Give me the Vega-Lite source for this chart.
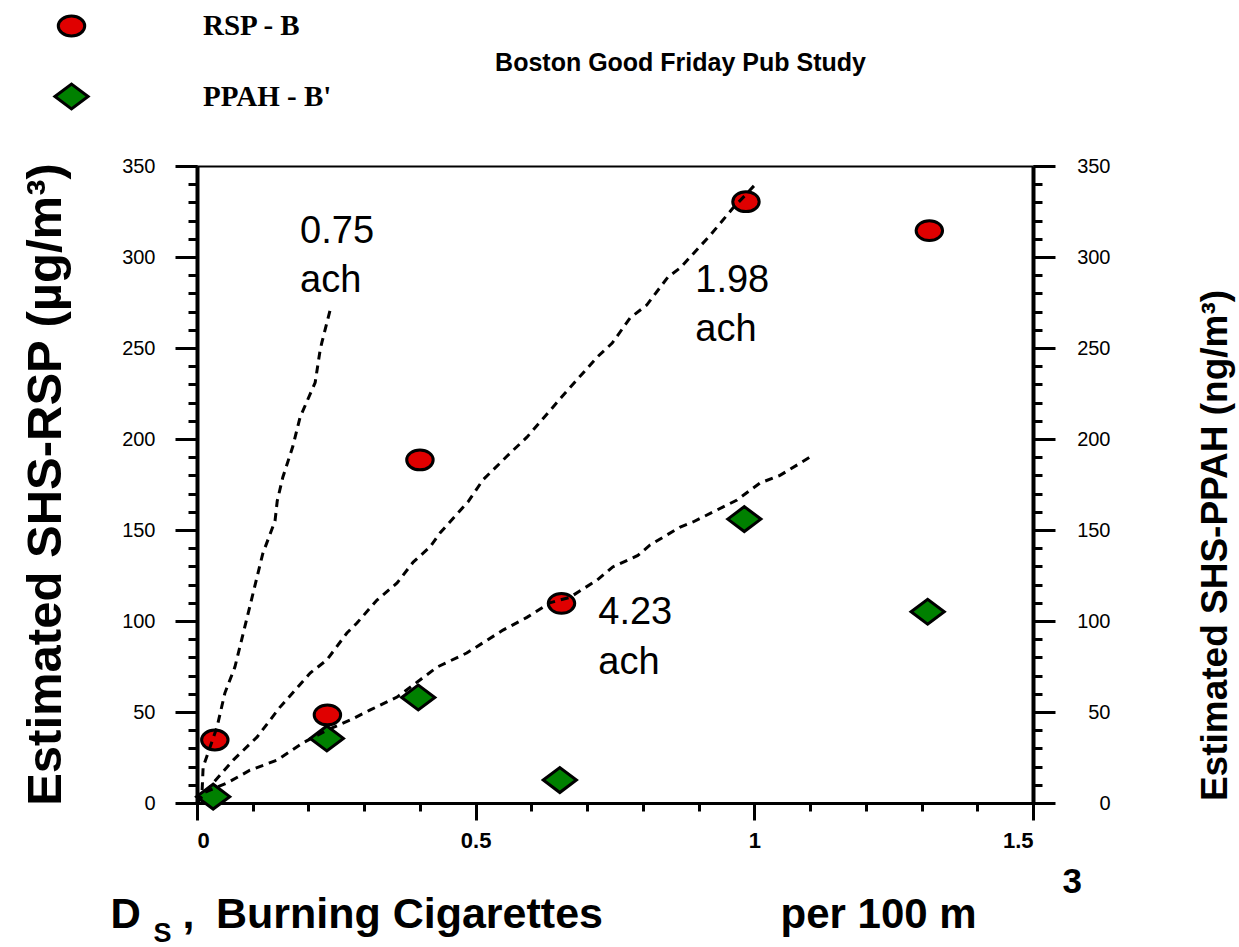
{
  "$schema": "https://vega.github.io/schema/vega-lite/v6.json",
  "width": 836,
  "height": 637,
  "autosize": "none",
  "padding": {"left": 197, "top": 166, "right": 206, "bottom": 144},
  "background": "white",
  "config": {
    "view": {"stroke": null},
    "legend": {"symbolStrokeWidth": 3, "symbolStrokeColor": "black"},
    "axis": {
      "grid": false,
      "labelColor": "black",
      "tickColor": "black",
      "domainColor": "black",
      "titleColor": "black",
      "labelFont": "Liberation Sans",
      "titleFont": "Liberation Sans"
    }
  },
  "datasets": {
    "lines": [
      {"ach": "0.75", "x": 0, "y": 0},
      {"ach": "0.75", "x": 0.009, "y": 5.5},
      {"ach": "0.75", "x": 0.011, "y": 19.8},
      {"ach": "0.75", "x": 0.036, "y": 41.8},
      {"ach": "0.75", "x": 0.05, "y": 60.4},
      {"ach": "0.75", "x": 0.068, "y": 74.7},
      {"ach": "0.75", "x": 0.09, "y": 102},
      {"ach": "0.75", "x": 0.118, "y": 137},
      {"ach": "0.75", "x": 0.14, "y": 155},
      {"ach": "0.75", "x": 0.144, "y": 166},
      {"ach": "0.75", "x": 0.154, "y": 179},
      {"ach": "0.75", "x": 0.172, "y": 196},
      {"ach": "0.75", "x": 0.185, "y": 212},
      {"ach": "0.75", "x": 0.212, "y": 231},
      {"ach": "0.75", "x": 0.221, "y": 249},
      {"ach": "0.75", "x": 0.224, "y": 253},
      {"ach": "0.75", "x": 0.239, "y": 271},
      {"ach": "1.98", "x": 0, "y": 0},
      {"ach": "1.98", "x": 0.029, "y": 11},
      {"ach": "1.98", "x": 0.065, "y": 23.6},
      {"ach": "1.98", "x": 0.108, "y": 36.3},
      {"ach": "1.98", "x": 0.149, "y": 52.7},
      {"ach": "1.98", "x": 0.203, "y": 71.4},
      {"ach": "1.98", "x": 0.233, "y": 78.6},
      {"ach": "1.98", "x": 0.269, "y": 93.4},
      {"ach": "1.98", "x": 0.287, "y": 98.9},
      {"ach": "1.98", "x": 0.323, "y": 111.5},
      {"ach": "1.98", "x": 0.359, "y": 120.9},
      {"ach": "1.98", "x": 0.388, "y": 132.4},
      {"ach": "1.98", "x": 0.418, "y": 140.7},
      {"ach": "1.98", "x": 0.436, "y": 148.4},
      {"ach": "1.98", "x": 0.486, "y": 165.4},
      {"ach": "1.98", "x": 0.513, "y": 177.5},
      {"ach": "1.98", "x": 0.562, "y": 192.3},
      {"ach": "1.98", "x": 0.592, "y": 201},
      {"ach": "1.98", "x": 0.657, "y": 224},
      {"ach": "1.98", "x": 0.718, "y": 245},
      {"ach": "1.98", "x": 0.745, "y": 252.7},
      {"ach": "1.98", "x": 0.777, "y": 266.5},
      {"ach": "1.98", "x": 0.807, "y": 273.6},
      {"ach": "1.98", "x": 0.845, "y": 289},
      {"ach": "1.98", "x": 0.867, "y": 294},
      {"ach": "1.98", "x": 0.921, "y": 312},
      {"ach": "1.98", "x": 0.962, "y": 327},
      {"ach": "1.98", "x": 0.987, "y": 335},
      {"ach": "1.98", "x": 1.005, "y": 341},
      {"ach": "4.23", "x": 0, "y": 0},
      {"ach": "4.23", "x": 0.011, "y": 5.5},
      {"ach": "4.23", "x": 0.054, "y": 11},
      {"ach": "4.23", "x": 0.095, "y": 18},
      {"ach": "4.23", "x": 0.144, "y": 23.6},
      {"ach": "4.23", "x": 0.19, "y": 33},
      {"ach": "4.23", "x": 0.233, "y": 40},
      {"ach": "4.23", "x": 0.275, "y": 45.6},
      {"ach": "4.23", "x": 0.31, "y": 51},
      {"ach": "4.23", "x": 0.359, "y": 58.2},
      {"ach": "4.23", "x": 0.4, "y": 67.6},
      {"ach": "4.23", "x": 0.431, "y": 74.7},
      {"ach": "4.23", "x": 0.484, "y": 82.4},
      {"ach": "4.23", "x": 0.549, "y": 95},
      {"ach": "4.23", "x": 0.592, "y": 102},
      {"ach": "4.23", "x": 0.633, "y": 110},
      {"ach": "4.23", "x": 0.669, "y": 113},
      {"ach": "4.23", "x": 0.718, "y": 122.5},
      {"ach": "4.23", "x": 0.746, "y": 129.7},
      {"ach": "4.23", "x": 0.791, "y": 136},
      {"ach": "4.23", "x": 0.813, "y": 141.8},
      {"ach": "4.23", "x": 0.867, "y": 151.6},
      {"ach": "4.23", "x": 0.89, "y": 154.4},
      {"ach": "4.23", "x": 0.969, "y": 166.5},
      {"ach": "4.23", "x": 1.01, "y": 175.8},
      {"ach": "4.23", "x": 1.046, "y": 180},
      {"ach": "4.23", "x": 1.105, "y": 191}
    ],
    "labels": [
      {"text": "0.75", "x": 0.185, "y": 313.7},
      {"text": "ach", "x": 0.185, "y": 287},
      {"text": "1.98", "x": 0.894, "y": 287},
      {"text": "ach", "x": 0.894, "y": 260},
      {"text": "4.23", "x": 0.72, "y": 104.4},
      {"text": "ach", "x": 0.72, "y": 77}
    ],
    "rsp": [
      {"series": "RSP - B", "x": 0.032, "y": 34.6},
      {"series": "RSP - B", "x": 0.234, "y": 48.4},
      {"series": "RSP - B", "x": 0.4, "y": 188.5},
      {"series": "RSP - B", "x": 0.654, "y": 109.7},
      {"series": "RSP - B", "x": 0.985, "y": 330.4},
      {"series": "RSP - B", "x": 1.314, "y": 314.5}
    ],
    "ppah": [
      {"series": "PPAH - B'", "x": 0.029, "y": 3.5},
      {"series": "PPAH - B'", "x": 0.233, "y": 35.5},
      {"series": "PPAH - B'", "x": 0.397, "y": 58},
      {"series": "PPAH - B'", "x": 0.651, "y": 12.6},
      {"series": "PPAH - B'", "x": 0.982, "y": 156},
      {"series": "PPAH - B'", "x": 1.311, "y": 105.1}
    ]
  },
  "resolve": {"scale": {"x": "independent", "y": "independent"}},
  "layer": [
    {
      "data": {"name": "rsp"},
      "mark": {"type": "point", "filled": true, "strokeWidth": 3, "opacity": 1},
      "encoding": {
        "x": {"field": "x", "type": "quantitative", "scale": {"domain": [0, 1.5], "nice": false, "zero": false},
          "axis": {"orient": "top", "ticks": false, "labels": false, "domainWidth": 2,
            "title": "Boston Good Friday Pub Study", "titleFontSize": 25, "titleFontWeight": "bold",
            "titleX": 483, "titleY": -104, "titleBaseline": "middle", "titleAlign": "center", "titleAngle": 0}},
        "y": {"field": "y", "type": "quantitative", "scale": {"domain": [0, 350], "nice": false, "zero": false},
          "axis": {"orient": "right", "values": [0,10,20,30,40,50,60,70,80,90,100,110,120,130,140,150,160,170,180,190,200,210,220,230,240,250,260,270,280,290,300,310,320,330,340,350],
            "labels": false, "domain": false, "tickSize": 9, "tickWidth": 3,
            "title": "3", "titleFontSize": 35, "titleFontWeight": "bold", "titleAngle": 0,
            "titleX": 29, "titleY": 726, "titleAlign": "left", "titleBaseline": "alphabetic"}},
        "fill": {"field": "series", "type": "nominal", "scale": {"domain": ["RSP - B", "PPAH - B'"], "range": ["#e00000", "#008000"]},
          "legend": {"orient": "none", "legendX": -144, "legendY": -155, "title": null, "padding": 0,
            "labelFont": "Liberation Serif", "labelFontSize": 29, "labelFontWeight": "bold", "labelColor": "black",
            "labelOffset": 113, "rowPadding": 36}},
        "stroke": {"field": "series", "type": "nominal", "scale": {"domain": ["RSP - B", "PPAH - B'"], "range": ["black", "black"]},
          "legend": {"orient": "none", "legendX": -144, "legendY": -155, "title": null, "padding": 0,
            "labelFont": "Liberation Serif", "labelFontSize": 29, "labelFontWeight": "bold", "labelColor": "black",
            "labelOffset": 113, "rowPadding": 36}},
        "shape": {"field": "series", "type": "nominal", "scale": {"domain": ["RSP - B", "PPAH - B'"], "range": ["M-1,0A1,0.75,0,1,0,1,0A1,0.75,0,1,0,-1,0Z", "M-1,0L0,-0.75L1,0L0,0.75Z"]},
          "legend": {"orient": "none", "legendX": -144, "legendY": -155, "title": null, "padding": 0,
            "labelFont": "Liberation Serif", "labelFontSize": 29, "labelFontWeight": "bold", "labelColor": "black",
            "labelOffset": 113, "rowPadding": 36}},
        "size": {"field": "series", "type": "nominal", "scale": {"domain": ["RSP - B", "PPAH - B'"], "range": [700, 1100]},
          "legend": {"orient": "none", "legendX": -144, "legendY": -155, "title": null, "padding": 0,
            "labelFont": "Liberation Serif", "labelFontSize": 29, "labelFontWeight": "bold", "labelColor": "black",
            "labelOffset": 113, "rowPadding": 36}}
      }
    },
    {
      "data": {"name": "ppah"},
      "mark": {"type": "point", "filled": true, "strokeWidth": 3, "opacity": 1},
      "encoding": {
        "x": {"field": "x", "type": "quantitative", "scale": {"domain": [0, 1.5], "nice": false, "zero": false},
          "axis": {"orient": "bottom", "ticks": false, "labels": false, "domain": false,
            "title": ",\u2002Burning Cigarettes", "titleFontSize": 43, "titleFontWeight": "bold",
            "titleX": -15, "titleY": 124, "titleAlign": "left", "titleBaseline": "alphabetic"}},
        "y": {"field": "y", "type": "quantitative", "scale": {"domain": [0, 350], "nice": false, "zero": false},
          "axis": {"orient": "right", "values": [0, 50, 100, 150, 200, 250, 300, 350], "tickSize": 22, "tickWidth": 3, "domainWidth": 4,
            "labelFontSize": 20, "labelAlign": "right", "labelPadding": 55,
            "title": "Estimated SHS-PPAH (ng/m³)", "titleFontSize": 37, "titleFontWeight": "bold", "titleAngle": 270,
            "titleX": 182, "titleY": 379, "titleBaseline": "middle", "titleAlign": "center"}},
        "fill": {"field": "series", "type": "nominal", "scale": {"domain": ["RSP - B", "PPAH - B'"], "range": ["#e00000", "#008000"]},
          "legend": {"orient": "none", "legendX": -144, "legendY": -155, "title": null, "padding": 0,
            "labelFont": "Liberation Serif", "labelFontSize": 29, "labelFontWeight": "bold", "labelColor": "black",
            "labelOffset": 113, "rowPadding": 36}},
        "stroke": {"field": "series", "type": "nominal", "scale": {"domain": ["RSP - B", "PPAH - B'"], "range": ["black", "black"]},
          "legend": {"orient": "none", "legendX": -144, "legendY": -155, "title": null, "padding": 0,
            "labelFont": "Liberation Serif", "labelFontSize": 29, "labelFontWeight": "bold", "labelColor": "black",
            "labelOffset": 113, "rowPadding": 36}},
        "shape": {"field": "series", "type": "nominal", "scale": {"domain": ["RSP - B", "PPAH - B'"], "range": ["M-1,0A1,0.75,0,1,0,1,0A1,0.75,0,1,0,-1,0Z", "M-1,0L0,-0.75L1,0L0,0.75Z"]},
          "legend": {"orient": "none", "legendX": -144, "legendY": -155, "title": null, "padding": 0,
            "labelFont": "Liberation Serif", "labelFontSize": 29, "labelFontWeight": "bold", "labelColor": "black",
            "labelOffset": 113, "rowPadding": 36}},
        "size": {"field": "series", "type": "nominal", "scale": {"domain": ["RSP - B", "PPAH - B'"], "range": [700, 1100]},
          "legend": {"orient": "none", "legendX": -144, "legendY": -155, "title": null, "padding": 0,
            "labelFont": "Liberation Serif", "labelFontSize": 29, "labelFontWeight": "bold", "labelColor": "black",
            "labelOffset": 113, "rowPadding": 36}}
      }
    },
    {
      "data": {"name": "lines"},
      "mark": {"type": "line", "color": "black", "strokeWidth": 3, "strokeDash": [8, 6]},
      "encoding": {
        "x": {"field": "x", "type": "quantitative", "scale": {"domain": [0, 1.5], "nice": false, "zero": false},
          "axis": {"orient": "bottom", "values": [0, 0.5, 1, 1.5], "format": "~g", "tickSize": 17, "tickWidth": 3, "domainWidth": 3,
            "labelFontSize": 22, "labelFontWeight": "bold", "labelPadding": 10,
            "title": "D", "titleFontSize": 42, "titleFontWeight": "bold",
            "titleX": -87, "titleY": 124, "titleAlign": "left", "titleBaseline": "alphabetic"}},
        "y": {"field": "y", "type": "quantitative", "scale": {"domain": [0, 350], "nice": false, "zero": false},
          "axis": {"orient": "left", "values": [0, 50, 100, 150, 200, 250, 300, 350], "tickSize": 22, "tickWidth": 3, "domainWidth": 4,
            "labelFontSize": 20, "labelPadding": 20,
            "title": "Estimated SHS-RSP (µg/m³)", "titleFontSize": 49, "titleFontWeight": "bold", "titleAngle": 270,
            "titleX": -152, "titleY": 318, "titleBaseline": "middle", "titleAlign": "center"}},
        "detail": {"field": "ach", "type": "nominal"}
      }
    },
    {
      "data": {"name": "labels"},
      "mark": {"type": "text", "font": "Liberation Sans", "fontSize": 38, "align": "left", "baseline": "middle", "color": "black"},
      "encoding": {
        "x": {"field": "x", "type": "quantitative", "scale": {"domain": [0, 1.5], "nice": false, "zero": false},
          "axis": {"orient": "bottom", "values": [0,0.1,0.2,0.3,0.4,0.5,0.6,0.7,0.8,0.9,1,1.1,1.2,1.3,1.4,1.5],
            "labels": false, "domain": false, "tickSize": 8, "tickWidth": 3,
            "title": "S", "titleFontSize": 27, "titleFontWeight": "bold",
            "titleX": -44, "titleY": 138, "titleAlign": "left", "titleBaseline": "alphabetic"}},
        "y": {"field": "y", "type": "quantitative", "scale": {"domain": [0, 350], "nice": false, "zero": false},
          "axis": {"orient": "left", "values": [0,10,20,30,40,50,60,70,80,90,100,110,120,130,140,150,160,170,180,190,200,210,220,230,240,250,260,270,280,290,300,310,320,330,340,350],
            "labels": false, "domain": false, "tickSize": 9, "tickWidth": 3,
            "title": "per 100 m", "titleFontSize": 42, "titleFontWeight": "bold", "titleAngle": 0,
            "titleX": 583, "titleY": 761, "titleAlign": "left", "titleBaseline": "alphabetic"}},
        "text": {"field": "text", "type": "nominal"}
      }
    }
  ]
}
